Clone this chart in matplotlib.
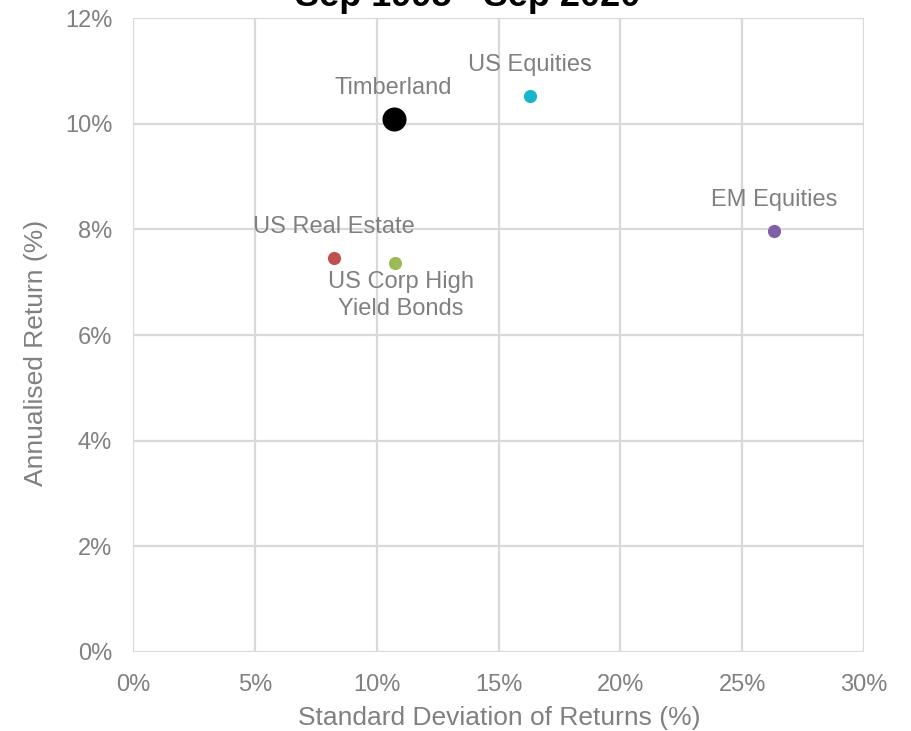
import matplotlib
matplotlib.use("Agg")
import matplotlib.pyplot as plt
from matplotlib.ticker import FuncFormatter

names = ["Timberland", "US Equities", "EM Equities", "US Real Estate", "US Corp High\nYield Bonds"]
std_dev = [10.7, 16.3, 26.3, 8.25, 10.75]
ann_return = [10.08, 10.52, 7.97, 7.46, 7.37]
colors = ["#000000", "#17B6CC", "#7F60A8", "#C0504D", "#9BBB59"]
sizes = [300, 90, 90, 90, 90]
label_offsets = [(0, 31), (0, 31), (0, 31), (0, 31), (6, -33)]

plt.rcParams['font.family'] = ['Liberation Sans', 'DejaVu Sans']

fig = plt.figure(figsize=(9.12, 7.31), dpi=100)
ax = fig.add_axes([133/912, 1-652/731, (864-133)/912, (652-18)/731])

grid_c = "#D9D9D9"
txt_c = "#808080"

for xi, yi, c, s in zip(std_dev, ann_return, colors, sizes):
    ax.scatter(xi, yi, s=s, color=c, zorder=3, linewidths=0)

for n, xi, yi, off in zip(names, std_dev, ann_return, label_offsets):
    ax.annotate(n, (xi, yi), xytext=off, textcoords='offset pixels',
                ha='center', va='center', fontsize=17, color=txt_c,
                linespacing=1.3, zorder=4)

ax.set_xlim(0, 30)
ax.set_ylim(0, 12)
ax.set_xticks(range(0, 31, 5))
ax.set_yticks(range(0, 13, 2))
ax.xaxis.set_major_formatter(FuncFormatter(lambda v, p: f"{v:.0f}%"))
ax.yaxis.set_major_formatter(FuncFormatter(lambda v, p: f"{v:.0f}%"))
ax.grid(True, color=grid_c, linewidth=1.6, zorder=0)
ax.set_axisbelow(True)
for sp in ax.spines.values():
    sp.set_visible(False)
ax.tick_params(length=0, labelsize=17, labelcolor=txt_c)
ax.tick_params(axis='x', pad=16)
ax.tick_params(axis='y', pad=15)

ax.set_xlabel("Standard Deviation of Returns (%)", fontsize=19, color=txt_c)
ax.set_ylabel("Annualised Return (%)", fontsize=19, color=txt_c)
ax.xaxis.set_label_coords(499/912, 1-718/731, transform=fig.transFigure)
ax.yaxis.set_label_coords(36/912, 1-353/731, transform=fig.transFigure)
ax.xaxis.label.set_va('center')
ax.yaxis.label.set_va('center')

fig.text(468/912, 1-6/731, "Sep 1995 - Sep 2020", ha='center', va='baseline',
         fontsize=26, fontweight='bold', color='black')

fig.savefig("out.png", dpi=100)
